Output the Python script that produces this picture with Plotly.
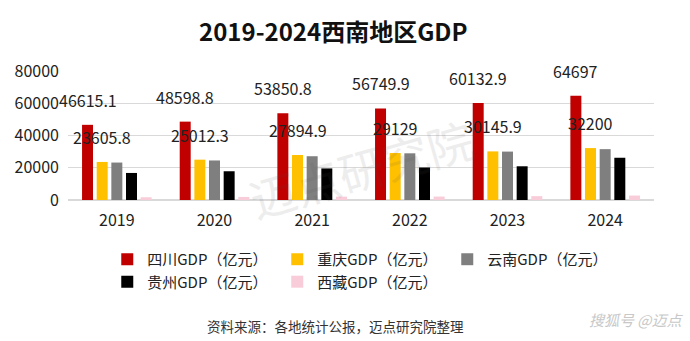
import plotly.graph_objects as go

years = ["2019", "2020", "2021", "2022", "2023", "2024"]
sichuan = [46615.1, 48598.8, 53850.8, 56749.9, 60132.9, 64697]
chongqing = [23605.8, 25012.3, 27894.9, 29129, 30145.9, 32200]
yunnan = [23224, 24522, 27147, 28954, 30021, 31534]
guizhou = [16769, 17827, 19586, 20165, 20913, 26200]
xizang = [1698, 1903, 2080, 2133, 2393, 2765]

names = ["四川GDP（亿元）", "重庆GDP（亿元）", "云南GDP（亿元）", "贵州GDP（亿元）", "西藏GDP（亿元）"]
colors = ["#C00000", "#FFC000", "#7F7F7F", "#000000", "#F9CCD9"]
series = [sichuan, chongqing, yunnan, guizhou, xizang]

FONT = "Noto Sans CJK SC"
xs = list(range(len(years)))

fig = go.Figure()
for nm, col, vals in zip(names, colors, series):
    fig.add_trace(go.Bar(x=xs, y=vals, name=nm, marker_color=col, marker_line_width=0))

bargap = 0.25
w = (1 - bargap) / 5
annotations = []
for k, vals in enumerate([sichuan, chongqing]):
    off = (k - 2) * w
    for i, v in enumerate(vals):
        annotations.append(dict(x=xs[i] + off, y=v, xref="x", yref="y", text=f"{v:g}",
                                showarrow=False, yanchor="bottom", yshift=11,
                                font=dict(family=FONT, size=16, color="#222222")))

annotations.append(dict(x=0.457, y=-0.977, xref="paper", yref="paper", xanchor="center", yanchor="middle",
                        text="资料来源：各地统计公报，迈点研究院整理", showarrow=False,
                        font=dict(family=FONT, size=13.5, color="#333333")))
annotations.append(dict(x=1.055, y=-0.93, xref="paper", yref="paper", xanchor="right", yanchor="middle",
                        text="<i>搜狐号 @迈点</i>", showarrow=False,
                        font=dict(family=FONT, size=15, color="#C8C8C8")))
annotations.append(dict(x=0.5, y=0.25, xref="paper", yref="paper", xanchor="center", yanchor="middle",
                        text="迈点研究院", showarrow=False, textangle=-16, opacity=0.1,
                        font=dict(family=FONT, size=46, color="#555555")))

fig.update_layout(
    width=690, height=341,
    margin=dict(l=68, r=36, t=71, b=141),
    paper_bgcolor="white", plot_bgcolor="white",
    barmode="group", bargap=bargap, bargroupgap=0.25,
    title=dict(text="<b>2019-2024西南地区GDP</b>", x=0.483, xanchor="center", y=0.903, yanchor="middle",
               font=dict(family=FONT, size=24, color="#111111")),
    font=dict(family=FONT, color="#222222"),
    xaxis=dict(tickmode="array", tickvals=xs, ticktext=years, range=[-0.5, 5.5],
               showgrid=False, showline=False, ticks="", tickfont=dict(size=16, color="#222222"),
               ticklabelstandoff=9),
    yaxis=dict(range=[0, 80000], dtick=20000, tickformat="d", showgrid=True, gridcolor="#D9D9D9", gridwidth=1,
               zeroline=True, zerolinecolor="#D9D9D9", showline=False, ticks="",
               tickfont=dict(size=16, color="#222222"), ticklabelstandoff=8),
    legend=dict(orientation="h", x=0.067, xanchor="left", y=-0.333, yanchor="top",
                entrywidth=125, entrywidthmode="pixels", traceorder="normal",
                font=dict(family=FONT, size=15, color="#222222"), itemsizing="constant"),
    annotations=annotations,
)

fig.write_html("out.html")
